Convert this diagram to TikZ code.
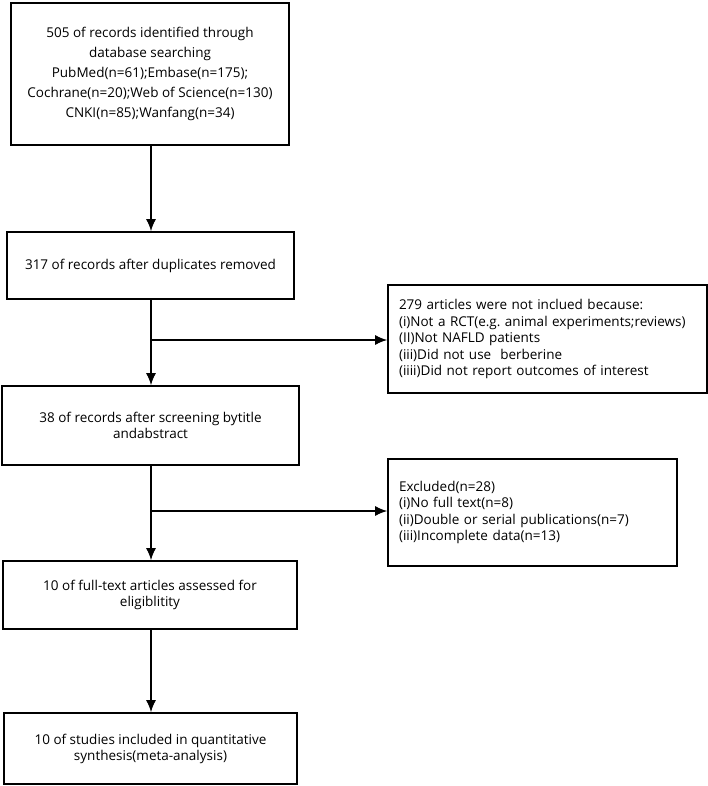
\documentclass[tikz,border=0pt]{standalone}
\usepackage{fontspec}
\setmainfont{Open Sans}
\frenchspacing
\usetikzlibrary{arrows.meta}

\tikzset{
  stagebox/.style={draw, line width=1.6pt, align=center, inner sep=0pt,
    font=\fontsize{13.5}{16}\selectfont},
  whybox/.style={draw, line width=1.6pt, align=left, inner sep=0pt,
    font=\fontsize{13.5}{16.5}\selectfont},
  flow/.style={line width=1.6pt}
}

\begin{document}
\begin{tikzpicture}[x=1pt, y=-1pt, >={Latex[length=12pt,width=10pt]}]
\useasboundingbox (0,0) rectangle (708,786);

\node[stagebox, minimum width=278pt, minimum height=142pt,
  font=\fontsize{13.5}{20}\selectfont] (ident) at (150,74)
  {505 of records identified through\\database searching\\PubMed(n=61);Embase(n=175);\\Cochrane(n=20);Web of Science(n=130)\\CNKI(n=85);Wanfang(n=34)};
\node[stagebox, minimum width=287pt, minimum height=67pt] (dup) at (150.5,265.5)
  {317 of records after duplicates removed};
\node[stagebox, minimum width=297pt, minimum height=79pt] (screen) at (150.5,425.5)
  {38 of records after screening bytitle\\andabstract};
\node[stagebox, minimum width=294pt, minimum height=68pt] (full) at (150,595)
  {10 of full-text articles assessed for\\eligiblitity};
\node[stagebox, minimum width=293pt, minimum height=71pt] (incl) at (150.5,748.5)
  {10 of studies included in quantitative\\synthesis(meta-analysis)};

\node[whybox, minimum width=319pt, minimum height=108pt, text width=297pt] (notin) at (547.5,339)
  {279 articles were not inclued because:\\(i)Not a RCT(e.g. animal experiments;reviews)\\(II)Not NAFLD patients\\(iii)Did not use\ \ berberine\\(iiii)Did not report outcomes of interest};
\node[whybox, minimum width=289pt, minimum height=107pt, text width=267pt] (excl) at (532.5,512.5)
  {Excluded(n=28)\\(i)No full text(n=8)\\(ii)Double or serial publications(n=7)\\(iii)Incomplete data(n=13)};

% main column
\draw[flow, ->] (ident.south -| 151,0) -- (dup.north -| 151,0);
\draw[flow, ->] (dup.south -| 151,0) -- (screen.north -| 151,0);
\draw[flow, ->] (screen.south -| 151,0) -- (full.north -| 151,0);
\draw[flow, ->] (full.south -| 151,0) -- (incl.north -| 151,0);

% side branches
\coordinate (b1) at (151,340);
\coordinate (b2) at (151,511);
\draw[flow, ->] (b1) -- (b1 -| notin.west);
\draw[flow, ->] (b2) -- (b2 -| excl.west);
\end{tikzpicture}
\end{document}
